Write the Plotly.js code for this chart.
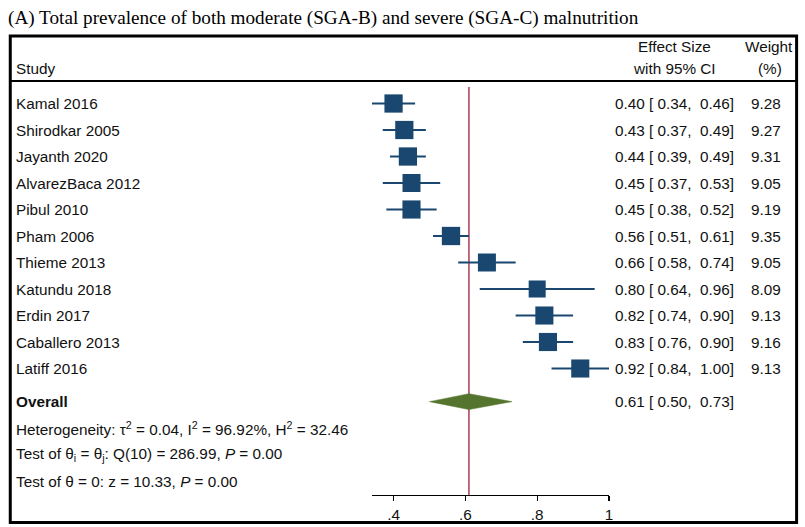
<!DOCTYPE html>
<html>
<head>
<meta charset="utf-8">
<script src="https://cdn.plot.ly/plotly-3.0.1.min.js"></script>
<style>html,body{margin:0;padding:0;background:#fff;}#chart{width:805px;height:527px;}</style>
</head>
<body>
<div id="chart"></div>
<script>
// ---- data ----
const studies = ["Kamal 2016","Shirodkar 2005","Jayanth 2020","AlvarezBaca 2012","Pibul 2010","Pham 2006","Thieme 2013","Katundu 2018","Erdin 2017","Caballero 2013","Latiff 2016"];
const effect = [0.40,0.43,0.44,0.45,0.45,0.56,0.66,0.80,0.82,0.83,0.92];
const ciLow  = [0.34,0.37,0.39,0.37,0.38,0.51,0.58,0.64,0.74,0.76,0.84];
const ciHigh = [0.46,0.49,0.49,0.53,0.52,0.61,0.74,0.96,0.90,0.90,1.00];
const weight = [9.28,9.27,9.31,9.05,9.19,9.35,9.05,8.09,9.13,9.16,9.13];
const overall = {est:0.61, lo:0.50, hi:0.73};
const tickVals = [0.4,0.6,0.8,1];
const tickText = [".4",".6",".8","1"];
const statsLines = [
  "Heterogeneity: \u03c4<sup>2</sup> = 0.04, I<sup>2</sup> = 96.92%, H<sup>2</sup> = 32.46",
  "Test of \u03b8<sub>i</sub> = \u03b8<sub>j</sub>: Q(10) = 286.99, <i>P</i> = 0.00",
  "Test of \u03b8 = 0: z = 10.33, <i>P</i> = 0.00"
];
const titleText = "(A) Total prevalence of both moderate (SGA-B) and severe (SGA-C) malnutrition";

// ---- layout helpers (pixel -> paper) ----
const W = 805, H = 527, L = 372, R = 609.5, T = 87, B = 495;
const xp = px => (px - L) / (R - L);
const yp = py => (B - py) / (B - T);
const rowTop = 103.5, rowStep = 26.5;
const n = studies.length;
const pos = studies.map((s, i) => i);
const overallPos = n + 0.25;

const navy = "#1a476f", green = "#55752f", red = "#a01c3c";
const sans = "Liberation Sans, Arial, sans-serif";
const fs = 15.3;
const txtColor = "#111";
const f2 = v => v.toFixed(2);
const maxW = Math.max(...weight);

const traces = [];
traces.push({
  type: "scatter", mode: "markers",
  x: effect, y: pos,
  marker: {symbol: "square", color: navy, opacity: 1, size: weight.map(w => 18.3 * Math.sqrt(w / maxW)), line: {width: 0}},
  error_x: {type: "data", symmetric: false,
    array: effect.map((e, i) => ciHigh[i] - e),
    arrayminus: effect.map((e, i) => e - ciLow[i]),
    color: navy, thickness: 1.8, width: 0},
  opacity: 1,
  hoverinfo: "skip", showlegend: false, cliponaxis: false
});
const dh = 0.3;
traces.push({
  type: "scatter", mode: "lines", fill: "toself", fillcolor: green,
  x: [overall.lo, overall.est, overall.hi, overall.est, overall.lo],
  y: [overallPos, overallPos - dh, overallPos, overallPos + dh, overallPos],
  line: {color: green, width: 0.5}, hoverinfo: "skip", showlegend: false
});

const ann = [];
const font = {family: sans, size: fs, color: txtColor};
const addText = (text, x, y, anchor, yref) => ann.push({
  text, x, y, xref: "paper", yref: yref || "paper", xanchor: anchor, yanchor: "middle",
  showarrow: false, font: font
});

// header
addText("Study", xp(13), yp(69), "left");
addText("Effect Size", xp(675), yp(47), "center");
addText("with 95% CI", xp(675), yp(69), "center");
addText("Weight", xp(770), yp(47), "center");
addText("(%)", xp(771), yp(69), "center");

studies.forEach((s, i) => {
  const y = pos[i];
  addText(s, xp(13), y, "left", "y");
  addText(f2(effect[i]) + " [ " + f2(ciLow[i]) + ",\u00a0 " + f2(ciHigh[i]) + "]", xp(614), y, "left", "y");
  addText(f2(weight[i]), xp(784), y, "right", "y");
});
addText("<b>Overall</b>", xp(13), overallPos, "left", "y");
addText(f2(overall.est) + " [ " + f2(overall.lo) + ",\u00a0 " + f2(overall.hi) + "]", xp(614), overallPos, "left", "y");
statsLines.forEach((t, k) => addText(t, xp(13), overallPos + 1 + k, "left", "y"));

const shapes = [
  {type: "rect", xref: "paper", yref: "paper", x0: xp(9.5), x1: xp(797.5), y0: yp(36), y1: yp(522.5), line: {color: "#000", width: 3}, layer: "above"},
  {type: "line", xref: "paper", yref: "paper", x0: xp(9.5), x1: xp(797.5), y0: yp(81), y1: yp(81), line: {color: "#000", width: 2.2}},
  {type: "line", xref: "x", yref: "paper", x0: overall.est, x1: overall.est, y0: 0, y1: 1, line: {color: red, width: 1.3}, layer: "below"}
];

const layout = {
  width: W, height: H,
  margin: {l: L, r: W - R, t: T, b: H - B, pad: 0},
  paper_bgcolor: "#fff", plot_bgcolor: "rgba(0,0,0,0)",
  title: {text: titleText, x: 8 / W, xanchor: "left", xref: "container", y: 1 - 17 / H, yanchor: "middle", yref: "container",
    font: {family: "Liberation Serif, Times New Roman, serif", size: 19.2, color: "#000"}},
  xaxis: {range: [Math.min(...ciLow), Math.max(...ciHigh)], showgrid: false, zeroline: false,
    showline: true, linecolor: "#000", linewidth: 1.3, ticks: "outside", ticklen: 5, tickwidth: 1.2, tickcolor: "#000",
    tickvals: tickVals, ticktext: tickText, tickfont: font, fixedrange: true},
  yaxis: {range: [(B - rowTop) / rowStep, (T - rowTop) / rowStep], visible: false, fixedrange: true},
  showlegend: false,
  annotations: ann, shapes: shapes
};

Plotly.newPlot("chart", traces, layout, {displayModeBar: false, staticPlot: true});
</script>
</body>
</html>
